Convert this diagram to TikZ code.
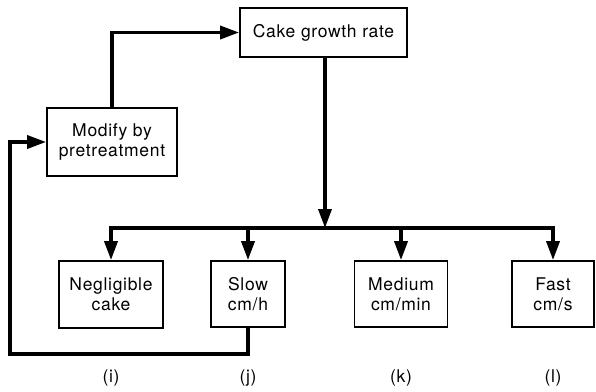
\documentclass[tikz,border=0pt]{standalone}
\usepackage{fontspec}
\setmainfont[LetterSpace=4]{TeX Gyre Heros}
\usetikzlibrary{arrows.meta,positioning}
\tikzset{
    box/.style={draw,line width=1.8pt,inner sep=0pt,align=center,font=\fontsize{17.5}{20}\selectfont},
    arr/.style={-{Triangle[length=19pt,width=13pt]},line width=3.5pt},
    tag/.style={font=\fontsize{17.5}{20}\selectfont}
}
\begin{document}
\begin{tikzpicture}[x=1pt,y=-1pt]
  \useasboundingbox (0,0) rectangle (596,391);
  % upper boxes
  \node[box,minimum width=167pt,minimum height=49pt] (growth) at (323.5,32.5) {Cake growth rate};
  \node[box,minimum width=130pt,minimum height=68pt] (modify) at (112,142) {Modify by\\pretreatment};
  % lower row of rates
  \node[box,minimum width=104pt,minimum height=67pt] (negl) at (111,294.5) {Negligible\\cake};
  \node[box,minimum width=74pt,minimum height=66pt] (slow) at (248,294) {Slow\\cm/h};
  \node[box,minimum width=93pt,minimum height=66pt] (medium) at (401,294) {Medium\\cm/min};
  \node[box,minimum width=82pt,minimum height=66pt] (fast) at (553,294) {Fast\\cm/s};
  % case labels
  \node[tag] (ti) at (111,378) {(i)};
  \node[tag] (tj) at (248,378) {(j)};
  \node[tag] (tk) at (401,378) {(k)};
  \node[tag] (tl) at (553,378) {(l)};
  % bus from growth rate to the four cases
  \coordinate (busmid) at (325,228);
  \draw[arr] (growth.south -| busmid) -- (busmid);
  \draw[arr] (busmid) -| (negl.north);
  \draw[arr] (busmid) -| (fast.north);
  \draw[arr] (slow.north |- busmid) -- (slow.north);
  \draw[arr] (medium.north |- busmid) -- (medium.north);
  % feedback loop through pretreatment
  \coordinate (loop) at (10,354);
  \draw[arr] (slow.south) |- (loop) |- (modify.west);
  \draw[arr] (modify.north) |- (growth.west);
\end{tikzpicture}
\end{document}
